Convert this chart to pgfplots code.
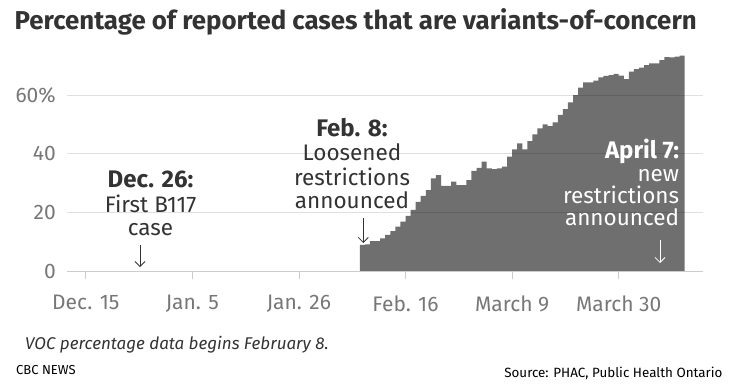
\documentclass[border=0pt]{standalone}
\usepackage{fontspec}
\setmainfont{Fira Sans}
\usepackage{graphicx}
\usepackage{pgfplots}
\pgfplotsset{compat=1.18}
\usetikzlibrary{arrows.meta}
\definecolor{areagray}{HTML}{6F6F6F}
\definecolor{titlegray}{HTML}{333333}
\definecolor{labelgray}{HTML}{777777}
\definecolor{axisgray}{HTML}{CCCCCC}
\definecolor{annot}{HTML}{333333}
\newcommand\fs[1]{\fontsize{#1bp}{#1bp}\selectfont}
\begin{document}
\begin{tikzpicture}
\path[use as bounding box] (0,0) rectangle (732bp,-388bp);
\begin{axis}[
  at={(67.3bp,-271bp)}, anchor=south west,
  scale only axis, width=635.4bp, height=220bp,
  xmin=-3.63, xmax=121.55, ymin=0, ymax=75,
  axis x line*=bottom, axis y line*=left,
  x axis line style={draw=axisgray, line width=0.8bp},
  y axis line style={draw=none},
  ytick={0,20,40,60}, yticklabels={0,20,40,60\%},
  xtick={0,21,42,63,84,105},
  xticklabels={Dec. 15, Jan. 5, Jan. 26, Feb. 16, March 9, March 30},
  tick align=outside, major tick length=8bp,
  xtick style={draw=axisgray, line width=0.8bp},
  ytick style={draw=none},
  ymajorgrids, grid style={draw=black, draw opacity=0.12, line width=0.8bp},
  axis on top,
  tick label style={font=\fs{21}, text=labelgray},
  yticklabel style={anchor=east},
  xticklabel style={anchor=north, yshift=-13bp},
  clip=false,
]
\addplot[fill=areagray, draw=none, const plot mark left] coordinates {
(54,8.9)(55,9.1)(56,10.2)(57,10.2)(58,11.1)(59,12.3)(60,13.6)(61,15.1)(62,16.8)(63,18.8)
(64,20.8)(65,23.6)(66,25.6)(67,27.6)(68,31.6)(69,32.7)(70,29.0)(71,29.0)(72,30.5)(73,29.3)
(74,29.3)(75,31.0)(76,34.1)(77,35.2)(78,37.3)(79,35.0)(80,34.7)(81,35.0)(82,35.6)(83,39.0)
(84,41.5)(85,43.5)(86,41.5)(87,44.3)(88,46.6)(89,48.6)(90,50.0)(91,49.4)(92,50.7)(93,53.2)
(94,55.2)(95,57.5)(96,60.0)(97,62.5)(98,64.3)(99,64.3)(100,64.9)(101,66.0)(102,66.5)(103,66.8)
(104,67.2)(105,66.6)(106,65.4)(107,68.0)(108,68.8)(109,69.3)(110,70.2)(111,70.8)(112,70.8)(113,71.9)
(114,72.9)(115,72.8)(116,73.1)(117,73.4)(118,73.4)
} \closedcycle;
\end{axis}
% title
\node[anchor=base west, inner sep=0, text=titlegray] at (14.5bp,-30bp)
  {\resizebox{682bp}{!}{\fs{24}\bfseries Percentage of reported cases that are variants-of-concern}};
% Dec 26 annotation
\node[anchor=base, inner sep=0, text=annot, font=\fs{24}\bfseries] at (150.5bp,-187bp) {Dec. 26:};
\node[anchor=base, inner sep=0, text=annot, font=\fs{22.5}] at (150.5bp,-212bp) {First B117};
\node[anchor=base, inner sep=0, text=annot, font=\fs{22.5}] at (150.5bp,-235bp) {case};
\draw[annot, line width=0.8bp, -{Straight Barb[length=5bp,width=10bp]}] (140bp,-245bp) -- (140bp,-267bp);
% Feb 8 annotation
\node[anchor=base, inner sep=0, text=annot, font=\fs{24}\bfseries] at (352bp,-136.7bp) {Feb. 8:};
\node[anchor=base, inner sep=0, text=annot, font=\fs{22.5}] at (352bp,-160bp) {Loosened};
\node[anchor=base, inner sep=0, text=annot, font=\fs{22.5}] at (352bp,-185bp) {restrictions};
\node[anchor=base, inner sep=0, text=annot, font=\fs{22.5}] at (352bp,-208.3bp) {announced};
\draw[annot, line width=0.8bp, -{Straight Barb[length=5bp,width=10bp]}] (363.3bp,-218bp) -- (363.3bp,-243bp);
% April 7 annotation
\node[anchor=base east, inner sep=0, text=white, font=\fs{24}\bfseries] at (679.3bp,-158.3bp) {April 7:};
\node[anchor=base east, inner sep=0, text=white, font=\fs{22.5}] at (679.3bp,-181.7bp) {new};
\node[anchor=base east, inner sep=0, text=white, font=\fs{22.5}] at (679.3bp,-203.3bp) {restrictions};
\node[anchor=base east, inner sep=0, text=white, font=\fs{22.5}] at (679.3bp,-225bp) {announced};
\draw[white, line width=0.8bp, -{Straight Barb[length=5bp,width=10bp]}] (660bp,-240bp) -- (660bp,-263bp);
% footer
\node[anchor=base west, inner sep=0, text=annot, font=\fs{17}\itshape] at (25bp,-349.5bp)
  {VOC percentage data begins February 8.};
\node[anchor=base west, inner sep=0, text=black, font=\fs{13}] at (16bp,-374bp) {CBC NEWS};
\node[anchor=base east, inner sep=0, text=black, font=\fs{13.4}] at (722.7bp,-377.3bp)
  {Source: PHAC, Public Health Ontario};
\end{tikzpicture}
\end{document}
